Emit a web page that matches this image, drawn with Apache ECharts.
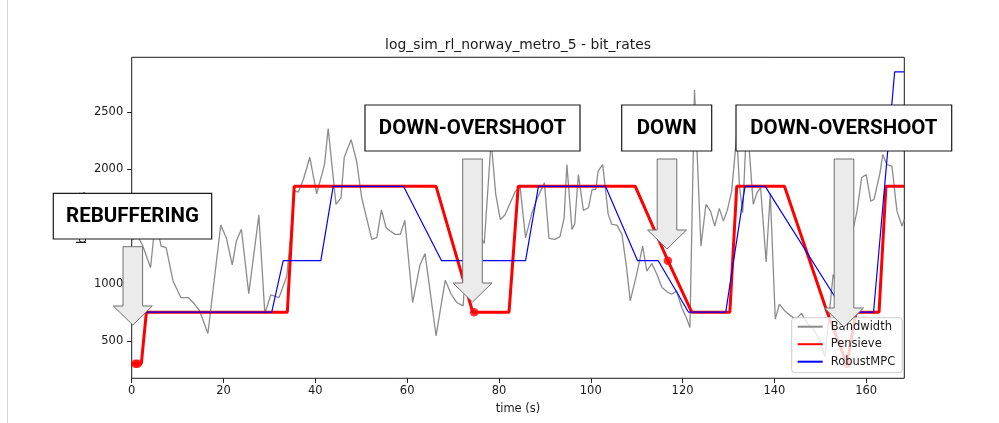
<!DOCTYPE html>
<html>
<head>
<meta charset="utf-8">
<script src="https://cdn.jsdelivr.net/npm/echarts@6/dist/echarts.min.js"></script>
<style>
  html, body { margin: 0; padding: 0; background: #ffffff; }
  #chart { width: 999px; height: 423px; }
</style>
</head>
<body>
<div id="chart"></div>
<script>
// Throughput trace of the link, [time (s), kbps]
const bandwidth = [
  [0, 1380], [1.3, 1420], [2.5, 1320], [4.1, 1140], [5.2, 1560], [6.4, 1328], [7.5, 1314],
  [9.0, 1023], [10.7, 878], [12.3, 878], [13.4, 835], [14.8, 762], [16.6, 564], [19.4, 1511],
  [20.6, 1401], [21.9, 1163], [22.8, 1372], [23.9, 1474], [25.5, 913], [27.7, 1598], [29.0, 739],
  [30.3, 901], [32.1, 878], [33.8, 1067], [35.5, 1810], [36.3, 1800], [37.4, 1910], [38.8, 2104],
  [40.3, 1785], [42.0, 2040], [42.8, 2355], [44.5, 1692], [45.6, 1750], [46.3, 2104], [47.8, 2258],
  [49.0, 2069], [50.1, 1750], [52.3, 1387], [53.4, 1401], [54.4, 1645], [55.4, 1490], [56.3, 1459],
  [57.4, 1430], [58.5, 1430], [59.5, 1552], [61.2, 835], [62.8, 1163], [63.9, 1262], [66.3, 544],
  [68.3, 1030], [69.6, 907], [70.8, 835], [72.2, 805], [73.0, 1300], [74.8, 1500], [76.8, 1350],
  [78.3, 2250], [79.3, 1780], [80.3, 1560], [81.3, 1600], [82.4, 1700], [83.5, 1800], [84.6, 1850],
  [85.8, 1400], [87.2, 1620], [88.5, 1760], [89.9, 1880], [90.9, 1395], [92.2, 1387], [93.3, 1410],
  [94.2, 1576], [94.8, 2040], [95.9, 1474], [96.5, 1520], [97.3, 1953], [98.4, 1640], [99.5, 1663],
  [100.3, 1823], [101.1, 1823], [101.6, 1982], [102.6, 2040], [103.8, 1605], [104.6, 1517],
  [105.7, 1511], [106.8, 1430], [107.8, 1140], [108.6, 849], [110.0, 1081], [111.3, 1328],
  [112.2, 1110], [113.3, 1175], [114.4, 1081], [115.5, 966], [116.6, 930], [117.6, 907],
  [118.7, 936], [119.8, 791], [120.8, 704], [121.6, 617], [122.6, 2694], [124.0, 1328],
  [125.1, 1692], [126.1, 1633], [127.0, 1503], [128.0, 1657], [128.9, 1546], [129.8, 1650],
  [130.7, 1808], [131.8, 2300], [132.4, 1851], [133.1, 1619], [134.0, 2450], [135.4, 1692],
  [136.2, 1794], [137.0, 1837], [138.2, 1189], [139.1, 1788], [140.2, 689], [141.1, 820],
  [142.3, 760], [143.5, 720], [144.7, 690], [145.9, 740], [147.2, 650], [148.5, 600], [149.8, 520],
  [151.0, 360], [152.8, 1080], [154.5, 900], [156.2, 1300], [158.0, 1633], [159.0, 1925],
  [160.0, 1953], [161.0, 1721], [161.7, 1735], [163.0, 1968], [163.6, 2128], [164.5, 2040],
  [165.6, 2026], [166.7, 1633], [167.8, 1503], [168.3, 1560]
];

// Bitrate chosen by Pensieve, [time (s), kbps]
const pensieve = [
  [0, 300], [2.1, 300], [3.2, 750], [33.9, 750], [35.4, 1850], [66.3, 1850], [74.3, 750],
  [82.2, 750], [84.2, 1850], [109.7, 1850], [116.8, 1200], [122.0, 750], [130.3, 750],
  [131.8, 1850], [142.2, 1850], [151.5, 750], [155.8, 300], [157.8, 750], [162.8, 750],
  [164.3, 1850], [168.3, 1850]
];

// Highlighted Pensieve decisions, [time (s), kbps]
const pensieveMarks = [
  [0.8, 300], [1.3, 300], [74.6, 750], [116.8, 1200], [155.8, 300]
];

// Bitrate chosen by RobustMPC, [time (s), kbps]
const robustMPC = [
  [2.8, 750], [30.5, 750], [33.0, 1200], [41.2, 1200], [43.9, 1850], [59.2, 1850], [67.5, 1200],
  [85.8, 1200], [88.6, 1850], [103.2, 1850], [110.2, 1200], [114.7, 1200], [121.3, 750],
  [129.4, 750], [133.6, 1850], [138.0, 1850], [155.3, 750], [161.6, 750], [166.2, 2850],
  [168.3, 2850]
];

const timeTicks = [0, 20, 40, 60, 80, 100, 120, 140, 160];
const rateTicks = [500, 1000, 1500, 2000, 2500];

const callouts = [
  { text: 'REBUFFERING',    box: [53.3, 193.3, 158.4, 45.7], arrowX: 132.8, arrowTop: 246.7, tipY: 325 },
  { text: 'DOWN-OVERSHOOT', box: [365, 105, 215, 46],        arrowX: 472.5, arrowTop: 159,   tipY: 302 },
  { text: 'DOWN',           box: [621.7, 105, 90, 46],       arrowX: 667,   arrowTop: 159,   tipY: 249 },
  { text: 'DOWN-OVERSHOOT', box: [736, 105, 215.7, 46],      arrowX: 844,   arrowTop: 159,   tipY: 327 }
];

const FONT = 'DejaVu Sans, sans-serif';
const chart = echarts.init(document.getElementById('chart'), null, { renderer: 'canvas' });

function arrowPoints(cx, top, tip) {
  const body = 9.8, head = 19.5, headH = 19;
  return [
    [cx - body, top], [cx + body, top], [cx + body, tip - headH], [cx + head, tip - headH],
    [cx, tip], [cx - head, tip - headH], [cx - body, tip - headH]
  ];
}

const graphics = [
  { type: 'line', z: 0, shape: { x1: 7.5, y1: 0, x2: 7.5, y2: 423 }, style: { stroke: '#d6d6d6', lineWidth: 1 } },
  {
    type: 'text', z: 10, x: 518, y: 45,
    style: { text: 'log_sim_rl_norway_metro_5 - bit_rates', font: '13.9px ' + FONT, fill: '#1a1a1a',
             align: 'center', verticalAlign: 'middle', textAlign: 'center', textVerticalAlign: 'middle' }
  }
];
callouts.forEach(function (c) {
  graphics.push({
    type: 'polygon', z: 100,
    shape: { points: arrowPoints(c.arrowX, c.arrowTop, c.tipY) },
    style: { fill: '#ebebeb', stroke: '#707070', lineWidth: 1 }
  });
  graphics.push({
    type: 'rect', z: 100,
    shape: { x: c.box[0], y: c.box[1], width: c.box[2], height: c.box[3] },
    style: { fill: '#ffffff', stroke: '#1a1a1a', lineWidth: 1.2 }
  });
  graphics.push({
    type: 'text', z: 101, x: c.box[0] + c.box[2] / 2, y: c.box[1] + c.box[3] / 2 + 0.5,
    style: { text: c.text, font: 'bold 20.5px Roboto, sans-serif', fill: '#000000',
             align: 'center', verticalAlign: 'middle', textAlign: 'center', textVerticalAlign: 'middle' }
  });
});

const plainNumber = function (v) { return String(v); };

chart.setOption({
  animation: false,
  backgroundColor: '#ffffff',
  grid: { left: 131.7, right: 94.7, top: 57.3, bottom: 44.7, show: true,
          borderColor: '#1a1a1a', borderWidth: 1, backgroundColor: 'transparent' },
  xAxis: {
    type: 'value', min: 0, max: 168.3,
    name: 'time (s)', nameLocation: 'middle', nameGap: 25, nameMoveOverlap: false,
    nameTextStyle: { fontFamily: FONT, fontSize: 11.5, color: '#1a1a1a' },
    axisLine: { show: false },
    axisTick: { show: true, inside: false, length: 4.5, customValues: timeTicks,
                lineStyle: { color: '#1a1a1a', width: 1 } },
    axisLabel: { customValues: timeTicks, formatter: plainNumber, margin: 7,
                 fontFamily: FONT, fontSize: 11.5, color: '#1a1a1a' },
    splitLine: { show: false }
  },
  yAxis: {
    type: 'value', min: 172.5, max: 2977.5,
    name: 'bit_rates', nameLocation: 'middle', nameGap: 43, nameMoveOverlap: false,
    nameTextStyle: { fontFamily: FONT, fontSize: 12, color: '#1a1a1a' },
    axisLine: { show: false },
    axisTick: { show: true, inside: false, length: 4.5, customValues: rateTicks,
                lineStyle: { color: '#1a1a1a', width: 1 } },
    axisLabel: { customValues: rateTicks, formatter: plainNumber, margin: 8.5,
                 fontFamily: FONT, fontSize: 11.5, color: '#1a1a1a' },
    splitLine: { show: false }
  },
  legend: {
    orient: 'vertical', left: 791.7, top: 317.7, z: 4,
    itemWidth: 25, itemHeight: 14, itemGap: 5.5, padding: [3, 7, 5, 5],
    backgroundColor: 'rgba(255,255,255,0.8)', borderColor: '#cccccc', borderWidth: 1, borderRadius: 3,
    textStyle: { fontFamily: FONT, fontSize: 11.5, color: '#1a1a1a', padding: [0, 0, 0, 3] },
    itemStyle: { opacity: 0 },
    selectedMode: false,
    data: ['Bandwidth', 'Pensieve', 'RobustMPC']
  },
  graphic: graphics,
  series: [
    { name: 'Bandwidth', type: 'line', data: bandwidth, symbol: 'none', showSymbol: false, z: 2,
      lineStyle: { color: '#8c8c8c', width: 1.3 }, itemStyle: { color: '#8c8c8c' } },
    { name: 'Pensieve', type: 'line', data: pensieve, symbol: 'none', showSymbol: false, z: 2,
      lineStyle: { color: '#ff0000', width: 3 }, itemStyle: { color: '#ff0000' } },
    { name: 'RobustMPC', type: 'line', data: robustMPC, symbol: 'none', showSymbol: false, z: 2,
      lineStyle: { color: '#0000ff', width: 1.2 }, itemStyle: { color: '#0000ff' } },
    { name: 'marks', type: 'scatter', data: pensieveMarks, symbol: 'circle', symbolSize: 8.5, z: 2,
      itemStyle: { color: '#ff0000' } }
  ]
});
</script>
</body>
</html>
